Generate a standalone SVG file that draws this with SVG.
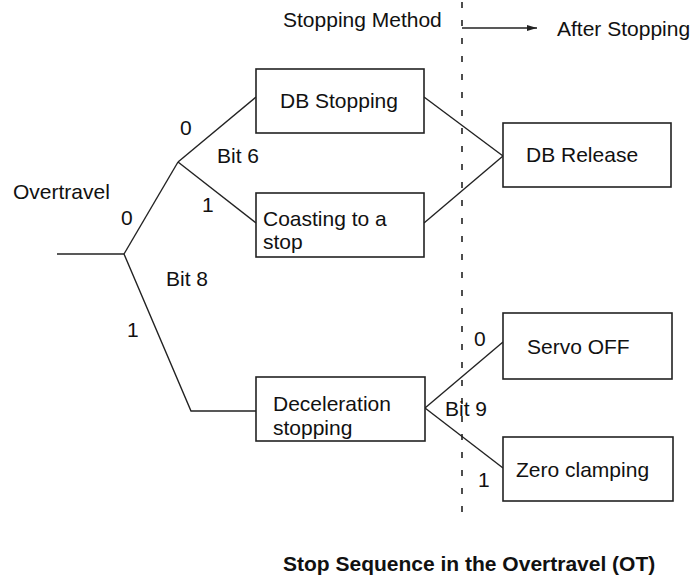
<svg xmlns="http://www.w3.org/2000/svg" width="693" height="576" viewBox="0 0 693 576">
<defs>
<style>
.t{font-family:"Liberation Sans",Arial,sans-serif;font-size:21px;fill:#111}
.b{font-weight:bold}
.box{fill:#fff;stroke:#222;stroke-width:1.6}
.c{fill:none;stroke:#222;stroke-width:1.4}
.d{fill:none;stroke:#222;stroke-width:1.6;stroke-dasharray:6 12}
</style>
<marker id="ah" viewBox="0 0 10 6" refX="10" refY="3" markerWidth="10" markerHeight="6" markerUnits="userSpaceOnUse" orient="auto">
<path d="M0,0 L10,3 L0,6 Z" fill="#222"/>
</marker>
</defs>
<rect width="693" height="576" fill="#fff"/>
<g id="connectors">
<path class="c" d="M57,254 L124,254"/>
<path class="c" d="M124,254 L178,162"/>
<path class="c" d="M178,162 L256,97"/>
<path class="c" d="M178,162 L256,223"/>
<path class="c" d="M124,254 L191,411 L256,411"/>
<path class="c" d="M424,97 L503,156"/>
<path class="c" d="M424,223 L503,156"/>
<path class="c" d="M425,408 L503,342"/>
<path class="c" d="M425,408 L503,468"/>
<path class="d" d="M462,2 L462,524"/>
<path class="c" d="M462,28 L537,28" marker-end="url(#ah)"/>
</g>
<g id="headers">
<text class="t" x="283" y="27">Stopping Method</text>
<text class="t" x="557" y="36">After Stopping</text>
</g>
<g id="labels">
<text class="t" x="13" y="199">Overtravel</text>
<text class="t" x="180" y="135">0</text>
<text class="t" x="217" y="163">Bit 6</text>
<text class="t" x="202" y="212">1</text>
<text class="t" x="121" y="225">0</text>
<text class="t" x="166" y="286">Bit 8</text>
<text class="t" x="127" y="337">1</text>
<text class="t" x="474" y="346">0</text>
<text class="t" x="445" y="416">Bit 9</text>
<text class="t" x="478" y="487">1</text>
</g>
<g id="db-stopping">
<rect class="box" x="256" y="69" width="168" height="64"/>
<text class="t" x="280" y="108">DB Stopping</text>
</g>
<g id="coasting">
<rect class="box" x="256" y="193" width="168" height="64"/>
<text class="t" x="263" y="226">Coasting to a</text>
<text class="t" x="263" y="249">stop</text>
</g>
<g id="db-release">
<rect class="box" x="503" y="123" width="168" height="64"/>
<text class="t" x="526" y="162">DB Release</text>
</g>
<g id="deceleration">
<rect class="box" x="256" y="377" width="169" height="64"/>
<text class="t" x="273" y="411">Deceleration</text>
<text class="t" x="273" y="435">stopping</text>
</g>
<g id="servo-off">
<rect class="box" x="503" y="313" width="169" height="66"/>
<text class="t" x="527" y="354">Servo OFF</text>
</g>
<g id="zero-clamping">
<rect class="box" x="503" y="437" width="170" height="64"/>
<text class="t" x="516" y="477">Zero clamping</text>
</g>
<g id="caption">
<text class="t b" x="283" y="571">Stop Sequence in the Overtravel (OT)</text>
</g>
</svg>
